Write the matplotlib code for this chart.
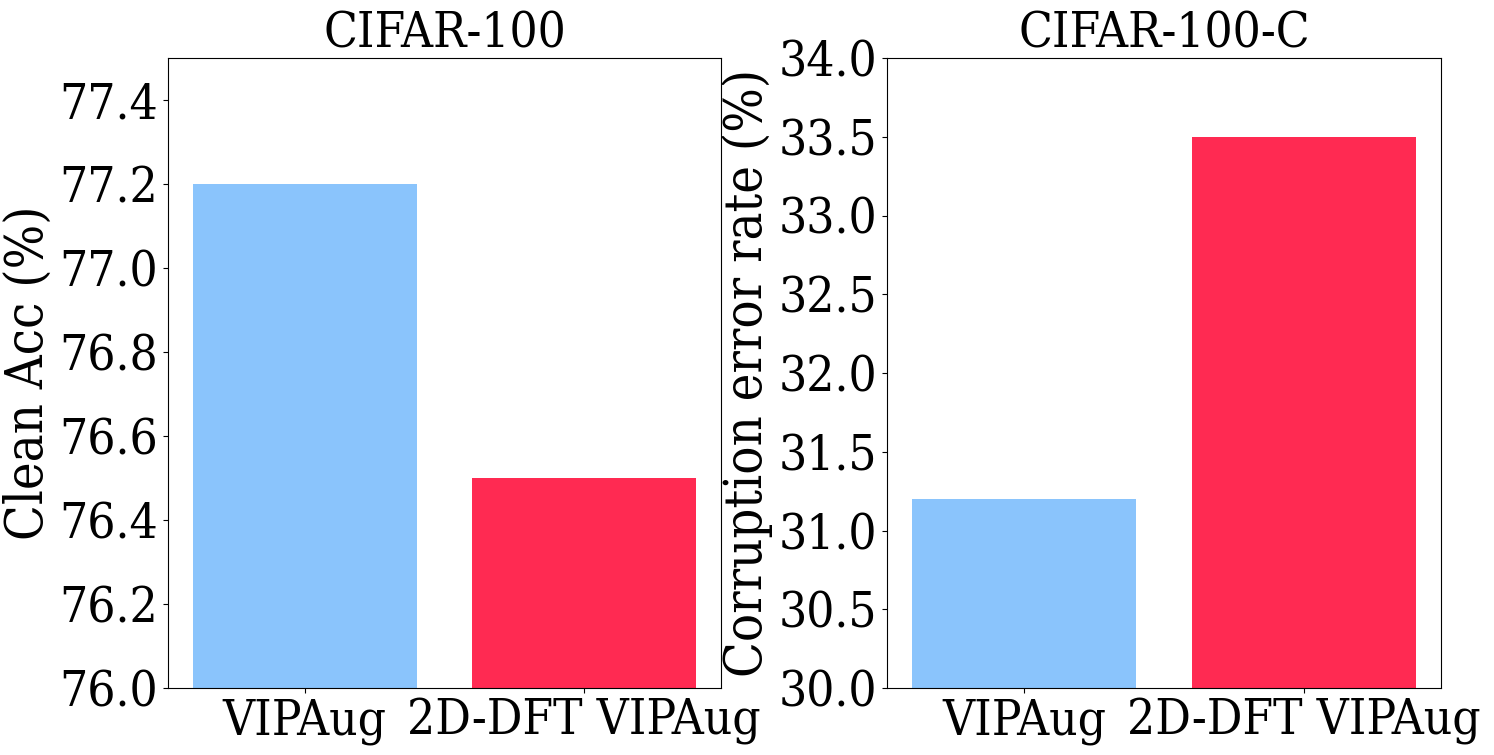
import matplotlib
matplotlib.use("Agg")
import matplotlib.pyplot as plt

methods = ["VIPAug", "2D-DFT VIPAug"]
clean_acc = [77.2, 76.5]
corr_err = [31.2, 33.5]
colors = ["#8AC4FC", "#FF2A52"]

plt.rcParams['font.family'] = 'DejaVu Serif'
plt.rcParams['font.stretch'] = 'condensed'

W, H = 1494, 755
fig = plt.figure(figsize=(W/100, H/100), dpi=100)
fs = 35.5
fs_lab = 37.5

def box(x0, x1, y0, y1):
    return [x0/W, (H-y1)/H, (x1-x0)/W, (y1-y0)/H]

ax1 = fig.add_axes(box(168, 721, 58, 688))
ax2 = fig.add_axes(box(887, 1441, 58, 688))

ax1.bar(methods, clean_acc, width=0.8, color=colors)
ax1.set_ylim(76.0, 77.5)
ax1.set_yticks([76.0, 76.2, 76.4, 76.6, 76.8, 77.0, 77.2, 77.4])
ax1.set_title("CIFAR-100", fontsize=fs)
ax1.set_ylabel("Clean Acc (%)", fontsize=fs_lab)

ax2.bar(methods, corr_err, width=0.8, color=colors)
ax2.set_ylim(30.0, 34.0)
ax2.set_yticks([30.0, 30.5, 31.0, 31.5, 32.0, 32.5, 33.0, 33.5, 34.0])
ax2.set_title("CIFAR-100-C", fontsize=fs)
ax2.set_ylabel("Corruption error rate (%)", fontsize=fs_lab)

for ax in (ax1, ax2):
    ax.tick_params(axis='both', labelsize=fs)

fig.savefig("out.png", dpi=100)
